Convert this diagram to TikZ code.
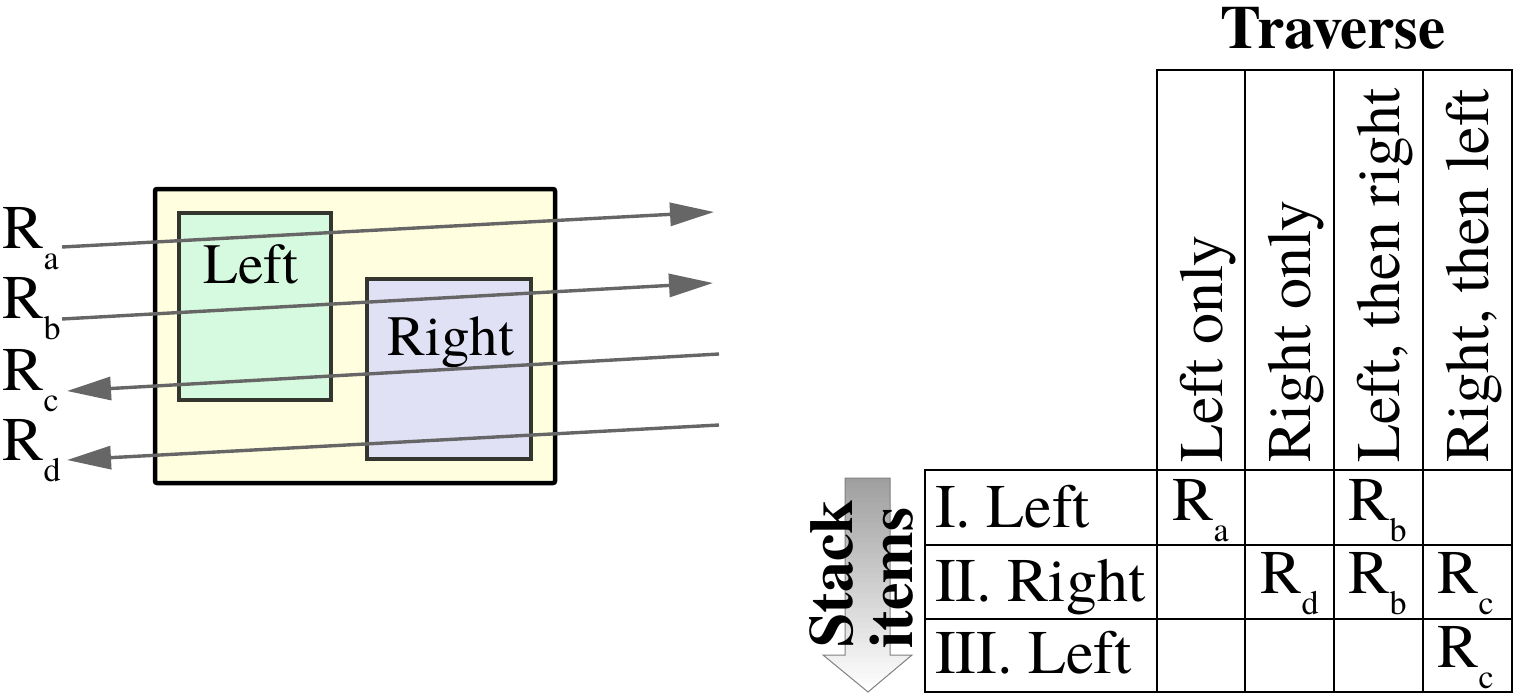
\documentclass[tikz,border=0pt]{standalone}
\usepackage{fontspec}
\setmainfont{texgyretermes}[Extension=.otf, UprightFont=*-regular, BoldFont=*-bold, ItalicFont=*-italic, BoldItalicFont=*-bolditalic]
\usetikzlibrary{arrows.meta}
\definecolor{outerfill}{HTML}{FFFFE0}
\definecolor{leftfill}{HTML}{D6FADF}
\definecolor{rightfill}{HTML}{E1E1F6}
\definecolor{boxline}{HTML}{35352F}
\definecolor{arrowgray}{HTML}{666666}
\newcommand\RR[1]{R\raisebox{-21pt}{\fontsize{34}{34}\selectfont #1}}
\begin{document}
\begin{tikzpicture}[x=1pt,y=-1pt,
  txt/.style={inner sep=0pt, font=\fontsize{62}{70}\selectfont},
  boxtxt/.style={inner sep=0pt, font=\fontsize{57}{64}\selectfont},
  boldtxt/.style={inner sep=0pt, font=\bfseries\fontsize{62}{70}\selectfont},
  ray/.style={draw=arrowgray, line width=3.4pt, -{Triangle[length=44pt,width=23pt]}},
  grid/.style={draw=black, line width=2.4pt},
]
\useasboundingbox (0,0) rectangle (1522,698);
% ---- left diagram ----
\draw[fill=outerfill, line width=4.5pt, rounded corners=2pt] (155,189) rectangle (555,483);
\draw[fill=leftfill, draw=boxline, line width=3.2pt] (179,213) rectangle (331,400);
\draw[fill=rightfill, draw=boxline, line width=3.2pt] (367,279) rectangle (531,459);
\node[boxtxt, anchor=base west] (lefttxt) at (203,283) {Left};
\node[boxtxt, anchor=base west] (righttxt) at (387,355) {Right};
\node[txt, anchor=base west] (la) at (2,248) {\RR{a}};
\node[txt, anchor=base west] (lb) at (2,318) {\RR{b}};
\node[txt, anchor=base west] (lc) at (2,390) {\RR{c}};
\node[txt, anchor=base west] (ld) at (2,460) {\RR{d}};
\coordinate (a1) at (62,247);  \coordinate (a2) at (714,212);
\coordinate (b1) at (62,319);  \coordinate (b2) at (713,283);
\coordinate (c1) at (719,354); \coordinate (c2) at (67,391);
\coordinate (d1) at (719,425); \coordinate (d2) at (67,460);
\draw[ray] (a1) -- (a2);
\draw[ray] (b1) -- (b2);
\draw[ray] (c1) -- (c2);
\draw[ray] (d1) -- (d2);
% ---- table ----
\node[boldtxt, font=\bfseries\fontsize{61}{70}\selectfont, anchor=base west] (trav) at (1220,49) {Traverse};
\draw[grid] (1157,70) rectangle (1512,470);
\foreach \x in {1245,1334,1423} \draw[grid] (\x,70) -- (\x,692);
\draw[grid] (925,470) rectangle (1512,692);
\draw[grid] (1157,470) -- (1157,692);
\draw[grid] (925,545) -- (1512,545);
\draw[grid] (925,619) -- (1512,619);
\node[txt, rotate=90, anchor=base west] (h1) at (1222,463) {Left only};
\node[txt, rotate=90, anchor=base west] (h2) at (1310,463) {Right only};
\node[txt, rotate=90, anchor=base west] (h3) at (1399,463) {Left, then right};
\node[txt, rotate=90, anchor=base west] (h4) at (1488,463) {Right, then left};
\node[txt, anchor=base west] (r1) at (935,527) {I. Left};
\node[txt, anchor=base west] (r2) at (935,601) {II. Right};
\node[txt, anchor=base west] (r3) at (935,673) {III. Left};
\node[txt, anchor=base west] (c11) at (1172,520) {\RR{a}};
\node[txt, anchor=base west] (c13) at (1348,520) {\RR{b}};
\node[txt, anchor=base west] (c22) at (1260,593) {\RR{d}};
\node[txt, anchor=base west] (c23) at (1348,593) {\RR{b}};
\node[txt, anchor=base west] (c24) at (1437,593) {\RR{c}};
\node[txt, anchor=base west] (c34) at (1437,667) {\RR{c}};
% ---- stack arrow (manual gradient) ----
\begin{scope}
  \clip (845,478) -- (890,478) -- (890,655) -- (912,655) -- (868,692) -- (823,655) -- (845,655) -- cycle;
  \foreach \i in {0,...,42} {
    \pgfmathsetmacro{\pc}{75-75*\i/42}
    \fill[gray!\pc] (820,{478+5*\i}) rectangle (915,{478+5*\i+5.5});
  }
\end{scope}
\draw[gray, line width=1pt] (845,478) -- (890,478) -- (890,655) -- (912,655) -- (868,692) -- (823,655) -- (845,655) -- cycle;
\node[boldtxt, rotate=90, anchor=base] (stk) at (852,574) {Stack};
\node[boldtxt, rotate=90, anchor=base] (itm) at (912,578) {items};
\end{tikzpicture}
\end{document}
